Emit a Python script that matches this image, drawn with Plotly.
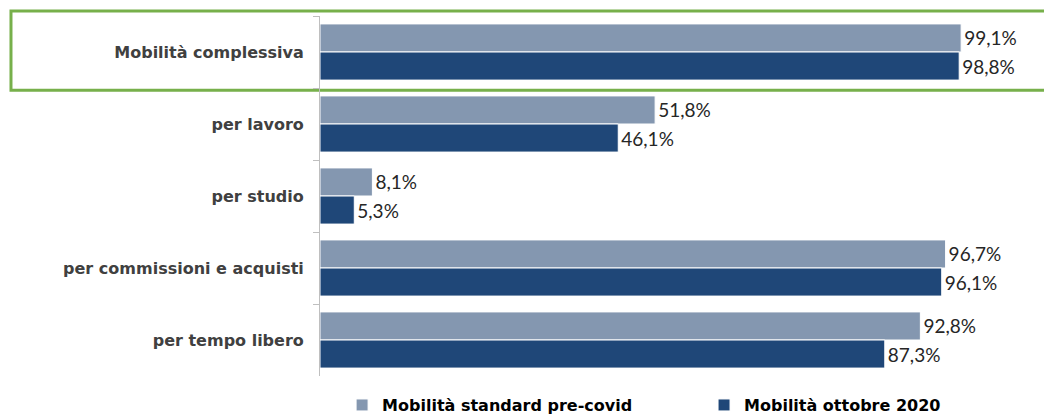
import plotly.graph_objects as go

categories = ["Mobilità complessiva", "per lavoro", "per studio",
              "per commissioni e acquisti", "per tempo libero"]
pre_covid = [99.1, 51.8, 8.1, 96.7, 92.8]
ottobre_2020 = [98.8, 46.1, 5.3, 96.1, 87.3]
series_names = ["Mobilità standard pre-covid", "Mobilità ottobre 2020"]
colors = ["#8497b0", "#1f4778"]
legend_ids = ["legend", "legend2"]

fig = go.Figure()
for name, vals, col, lg in zip(series_names, [pre_covid, ottobre_2020], colors, legend_ids):
    fig.add_trace(go.Bar(
        y=categories, x=vals, name=name, orientation="h",
        marker=dict(color=col, line=dict(color="white", width=1)),
        texttemplate="%{x:.1f}%", textposition="outside",
        textfont=dict(family="Lato, sans-serif", size=19, color="#262626"),
        cliponaxis=False, legend=lg,
    ))

# highlight box around the first category
fig.add_shape(type="rect", xref="paper", yref="paper",
              x0=-0.428, x1=1.03, y0=0.794, y1=1.014,
              line=dict(color="#77b04b", width=3), fillcolor="rgba(0,0,0,0)", layer="below")

legend_font = dict(family="DejaVu Sans, sans-serif", size=16, color="#000000", weight="bold")
common_legend = dict(orientation="h", xref="container", yref="container",
                     y=0.022, xanchor="left", yanchor="middle",
                     font=legend_font, itemwidth=30, bgcolor="rgba(0,0,0,0)")

fig.update_layout(
    width=1044, height=406,
    margin=dict(l=312, r=10, t=8, b=38, autoexpand=False),
    barmode="group", bargap=0.22, bargroupgap=0,
    separators=",.",
    plot_bgcolor="white", paper_bgcolor="white",
    showlegend=True,
    legend=dict(x=0.32, **common_legend),
    legend2=dict(x=0.6667, **common_legend),
    font=dict(family="DejaVu Sans, sans-serif"),
)
fig.update_xaxes(range=[0, 111.6], visible=False, showgrid=False)
fig.update_yaxes(range=[len(categories) - 0.5, -0.5], showline=True, linecolor="#bfbfbf", linewidth=1,
                 ticks="outside", tickson="boundaries", ticklen=6, tickcolor="#bfbfbf",
                 showgrid=False, automargin=False, ticklabelstandoff=12,
                 tickfont=dict(family="DejaVu Sans, sans-serif", size=16, color="#404040", weight="bold"))

fig.write_html("out.html")
